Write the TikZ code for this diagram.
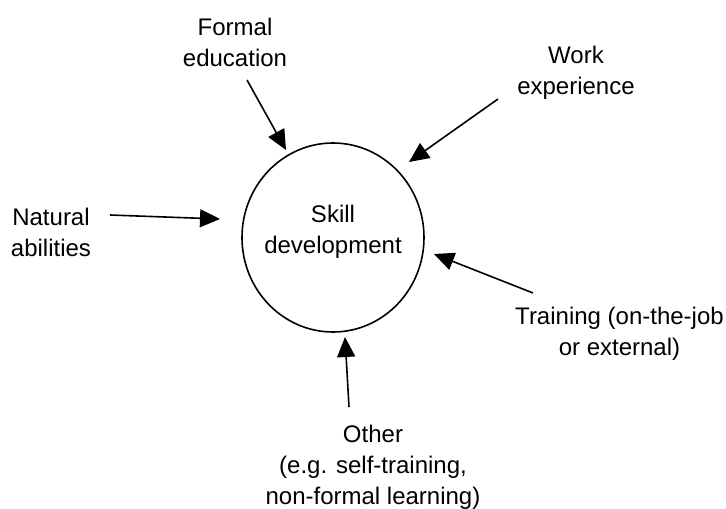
\documentclass[tikz,border=0pt]{standalone}
\usepackage{fontspec}
\setmainfont{Liberation Sans}
\usetikzlibrary{arrows.meta,shapes.geometric}
\begin{document}
\begin{tikzpicture}[x=1pt,y=-1pt,
  lbl/.style={align=center,inner sep=0pt,font=\fontsize{24}{31}\selectfont},
  feed/.style={line width=1.6pt,-{Triangle[length=20pt,width=18pt]}}]
\useasboundingbox (0,0) rectangle (726,509);
\clip (0,0) rectangle (726,509);
% centre
\node[ellipse,draw,line width=1.6pt,minimum width=182pt,minimum height=189pt] (skill) at (333,237.5) {};
\node[lbl] (skilltxt) at (333,232) {Skill\\development};
% labels
\node[lbl] (formal) at (235,42.5) {Formal\\education};
\node[lbl] (work) at (576,72.5) {Work\\experience};
\node[lbl] (natural) at (51,232.5) {Natural\\abilities};
\node[lbl] (training) at (619.5,333.5) {Training (on-the-job\\or external)};
\node[lbl] (other) at (373,467) {Other\\(e.g. self-training,\\non-formal learning)};
% arrow ends
\coordinate (fs) at (247,80);  \coordinate (ft) at (286,150);
\coordinate (ws) at (498,99);  \coordinate (wt) at (409,162);
\coordinate (ns) at (110,215); \coordinate (nt) at (220,219);
\coordinate (ts) at (533,293); \coordinate (tt) at (434,254);
\coordinate (os) at (349,407); \coordinate (ot) at (345,337);
\draw[feed] (fs) -- (ft);
\draw[feed] (ws) -- (wt);
\draw[feed] (ns) -- (nt);
\draw[feed] (ts) -- (tt);
\draw[feed] (os) -- (ot);
\end{tikzpicture}
\end{document}
